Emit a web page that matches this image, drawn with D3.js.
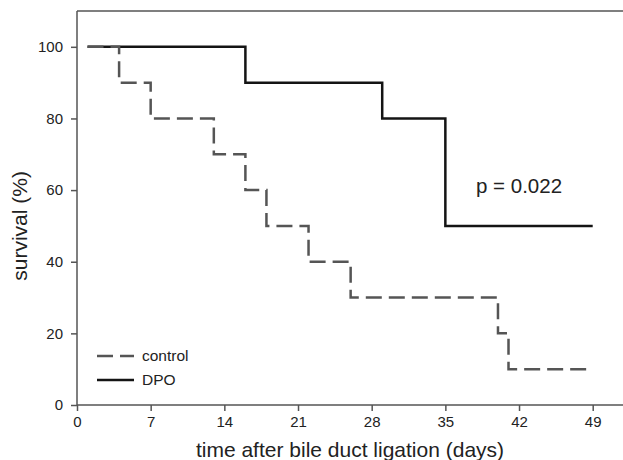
<!DOCTYPE html>
<html>
<head>
<meta charset="utf-8">
<script src="https://cdn.jsdelivr.net/npm/d3@7"></script>
<style>
html,body{margin:0;padding:0;background:#fff;overflow:hidden;}
svg{display:block;font-family:"Liberation Sans",Arial,Helvetica,sans-serif;}
</style>
</head>
<body>
<svg id="chart" width="623" height="460"></svg>
<script>
const xTicks = [0, 7, 14, 21, 28, 35, 42, 49];
const yTicks = [0, 20, 40, 60, 80, 100];
const controlDays = [1, 4, 7, 13, 16, 18, 22, 26, 40, 41, 49];
const controlSurvival = [100, 90, 80, 70, 60, 50, 40, 30, 20, 10, 10];
const dpoDays = [1, 16, 29, 35, 49];
const dpoSurvival = [100, 90, 80, 50, 50];
const seriesNames = ["control", "DPO"];
const pText = "p = 0.022";
const xTitle = "time after bile duct ligation (days)";
const yTitle = "survival (%)";

const svg = d3.select("#chart");
const axisColor = "#555";
const x = d3.scaleLinear().domain([0, 49]).range([77, 592.7]);
const y = d3.scaleLinear().domain([0, 110]).range([405, 11]);

// frame: left, top, bottom (open to the right edge of the picture)
const frame = svg.append("g").attr("stroke", axisColor).attr("stroke-width", 1.5);
frame.append("line").attr("x1", x(0)).attr("x2", x(0)).attr("y1", y(110)).attr("y2", y(0));
frame.append("line").attr("x1", x(0)).attr("x2", 623).attr("y1", y(110)).attr("y2", y(110));
frame.append("line").attr("x1", x(0)).attr("x2", 623).attr("y1", y(0)).attr("y2", y(0));

const xAxis = svg.append("g").attr("transform", `translate(0,${y(0)})`)
  .call(d3.axisBottom(x).tickValues(xTicks).tickSize(6).tickSizeOuter(0).tickPadding(5));
const yAxis = svg.append("g").attr("transform", `translate(${x(0)},0)`)
  .call(d3.axisLeft(y).tickValues(yTicks).tickSize(6).tickSizeOuter(0).tickPadding(8));
[xAxis, yAxis].forEach(a => {
  a.select(".domain").remove();
  a.selectAll("line").attr("stroke", axisColor).attr("stroke-width", 1.5);
  a.selectAll("text").attr("fill", "#222").style("font-size", "15px")
    .style("font-family", '"Liberation Sans",Arial,sans-serif');
});

const line = d3.line().x(d => x(d[0])).y(d => y(d[1])).curve(d3.curveStepAfter);
const controlPts = controlDays.map((d, i) => [d, controlSurvival[i]]);
const dpoPts = dpoDays.map((d, i) => [d, dpoSurvival[i]]);

svg.append("path").datum(dpoPts).attr("d", line)
  .attr("fill", "none").attr("stroke", "#141414").attr("stroke-width", 2.5);
svg.append("path").datum(controlPts).attr("d", line)
  .attr("fill", "none").attr("stroke", "#555").attr("stroke-width", 2.5)
  .attr("stroke-dasharray", "16,7");

// legend
const leg = [
  {name: seriesNames[0], y: 356, dash: "16,7", color: "#555"},
  {name: seriesNames[1], y: 380, dash: null, color: "#141414"}
];
leg.forEach(l => {
  svg.append("line").attr("x1", 97).attr("x2", 134).attr("y1", l.y).attr("y2", l.y)
    .attr("stroke", l.color).attr("stroke-width", 2.5)
    .attr("stroke-dasharray", l.dash);
  svg.append("text").attr("x", 142).attr("y", l.y + 5).text(l.name)
    .attr("fill", "#222").style("font-size", "15.5px");
});

svg.append("text").attr("x", 476).attr("y", 193).text(pText)
  .attr("fill", "#222").style("font-size", "20.5px");

svg.append("text").attr("x", 350).attr("y", 457).attr("text-anchor", "middle")
  .text(xTitle).attr("fill", "#222").style("font-size", "21px");

svg.append("text").attr("transform", `translate(27,${y(50)}) rotate(-90)`)
  .attr("text-anchor", "middle").text(yTitle)
  .attr("fill", "#222").style("font-size", "21px");
</script>
</body>
</html>
